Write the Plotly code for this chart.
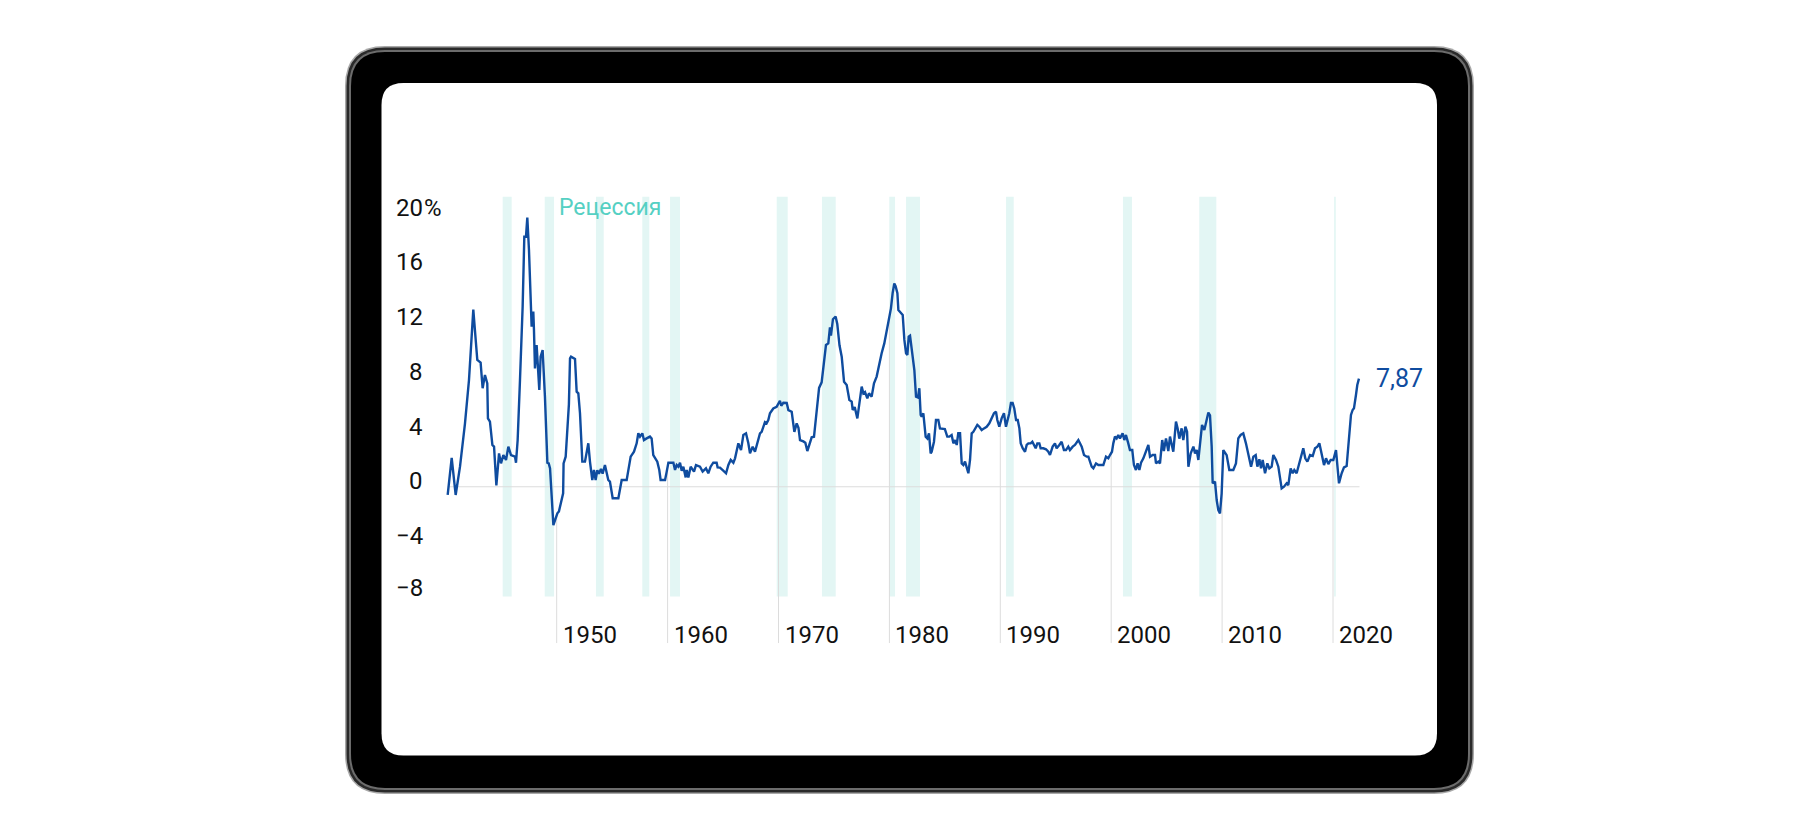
import numpy as np
import plotly.graph_objects as go

# ---------------- data ----------------
years = [
    1940.17, 1940.53, 1940.89, 1941.28, 1941.73, 1942.09, 1942.48, 1942.84, 1943.14, 1943.32,
    1943.53, 1943.74, 1943.80, 1943.98, 1944.20, 1944.35, 1944.56, 1944.80, 1944.98, 1945.19,
    1945.43, 1945.64, 1945.88, 1946.24, 1946.33, 1946.48, 1946.69, 1946.93, 1947.08, 1947.23,
    1947.35, 1947.50, 1947.74, 1947.89, 1947.95, 1948.04, 1948.19, 1948.34, 1948.43, 1948.55,
    1948.73, 1948.94, 1949.16, 1949.28, 1949.40, 1949.70, 1949.85, 1950.06, 1950.20, 1950.39,
    1950.58, 1950.62, 1950.81, 1951.10, 1951.20, 1951.29, 1951.65, 1951.80, 1951.95, 1952.10,
    1952.31, 1952.55, 1952.85, 1953.00, 1953.21, 1953.36, 1953.51, 1953.66, 1953.81, 1953.99,
    1954.14, 1954.35, 1954.50, 1954.65, 1954.80, 1955.05, 1955.56, 1955.86, 1956.31, 1956.67,
    1956.97, 1957.21, 1957.36, 1957.51, 1957.72, 1957.87, 1958.11, 1958.41, 1958.56, 1958.71,
    1959.07, 1959.25, 1959.37, 1959.77, 1959.92, 1960.07, 1960.52, 1960.67, 1960.82, 1960.97,
    1961.12, 1961.27, 1961.42, 1961.63, 1961.72, 1961.87, 1962.08, 1962.38, 1962.56, 1962.92,
    1963.16, 1963.46, 1963.67, 1963.88, 1964.12, 1964.42, 1964.51, 1964.72, 1965.02, 1965.27,
    1965.48, 1965.69, 1965.93, 1966.08, 1966.38, 1966.62, 1966.83, 1967.07, 1967.28, 1967.43,
    1967.67, 1967.88, 1968.33, 1968.48, 1968.78, 1968.93, 1969.08, 1969.23, 1969.53, 1969.83,
    1970.13, 1970.25, 1970.44, 1970.74, 1970.89, 1971.19, 1971.43, 1971.64, 1971.80, 1971.94,
    1972.24, 1972.42, 1972.60, 1972.78, 1972.99, 1973.20, 1973.44, 1973.66, 1973.89, 1974.04,
    1974.28, 1974.49, 1974.64, 1974.73, 1974.91, 1975.15, 1975.30, 1975.50, 1975.70, 1975.91,
    1976.15, 1976.39, 1976.60, 1976.69, 1976.87, 1977.11, 1977.35, 1977.50, 1977.65, 1977.80,
    1978.01, 1978.16, 1978.40, 1978.61, 1978.85, 1979.09, 1979.30, 1979.54, 1979.81, 1979.99,
    1980.14, 1980.29, 1980.44, 1980.56, 1980.72, 1980.81, 1980.96, 1981.20, 1981.35, 1981.50,
    1981.62, 1981.74, 1981.86, 1982.01, 1982.25, 1982.40, 1982.58, 1982.70, 1982.82, 1982.91,
    1983.06, 1983.27, 1983.42, 1983.57, 1983.72, 1983.81, 1984.02, 1984.20, 1984.41, 1984.56,
    1984.86, 1985.00, 1985.22, 1985.40, 1985.61, 1985.77, 1985.92, 1986.07, 1986.21, 1986.37,
    1986.52, 1986.67, 1986.82, 1986.97, 1987.12, 1987.27, 1987.42, 1987.57, 1987.78, 1987.93,
    1988.11, 1988.32, 1988.53, 1988.77, 1989.01, 1989.22, 1989.43, 1989.61, 1989.73, 1989.91,
    1990.12, 1990.33, 1990.51, 1990.66, 1990.81, 1990.96, 1991.11, 1991.26, 1991.42, 1991.57,
    1991.72, 1991.84, 1992.02, 1992.23, 1992.38, 1992.53, 1992.74, 1992.89, 1993.04, 1993.19,
    1993.34, 1993.52, 1993.64, 1993.88, 1994.12, 1994.33, 1994.48, 1994.72, 1994.93, 1995.08,
    1995.32, 1995.53, 1995.74, 1995.92, 1996.13, 1996.28, 1996.53, 1996.73, 1997.04, 1997.19,
    1997.34, 1997.55, 1997.79, 1997.94, 1998.09, 1998.24, 1998.39, 1998.63, 1998.84, 1999.14,
    1999.29, 1999.53, 1999.74, 1999.89, 2000.07, 2000.19, 2000.34, 2000.49, 2000.64, 2000.79,
    2001.03, 2001.18, 2001.33, 2001.54, 2001.69, 2001.90, 2002.05, 2002.23, 2002.38, 2002.54,
    2002.69, 2002.90, 2003.14, 2003.35, 2003.50, 2003.74, 2003.95, 2004.04, 2004.25, 2004.40,
    2004.60, 2004.75, 2004.94, 2005.15, 2005.30, 2005.54, 2005.60, 2005.84, 2005.99, 2006.14,
    2006.35, 2006.50, 2006.69, 2006.84, 2006.96, 2007.17, 2007.41, 2007.56, 2007.71, 2007.86,
    2008.01, 2008.19, 2008.40, 2008.61, 2008.76, 2008.91, 2009.06, 2009.15, 2009.36, 2009.51,
    2009.66, 2009.81, 2009.96, 2010.11, 2010.26, 2010.41, 2010.65, 2011.01, 2011.25, 2011.46,
    2011.67, 2011.91, 2012.15, 2012.37, 2012.61, 2012.82, 2013.03, 2013.18, 2013.36, 2013.51,
    2013.66, 2013.87, 2014.08, 2014.26, 2014.47, 2014.62, 2014.86, 2015.07, 2015.22, 2015.37,
    2015.58, 2015.82, 2015.97, 2016.18, 2016.36, 2016.51, 2016.72, 2016.93, 2017.08, 2017.32,
    2017.50, 2017.69, 2017.93, 2018.17, 2018.38, 2018.59, 2018.77, 2018.98, 2019.19, 2019.37,
    2019.58, 2019.79, 2020.03, 2020.27, 2020.39, 2020.54, 2020.78, 2020.99, 2021.23, 2021.47,
    2021.62, 2021.77, 2021.89, 2022.07, 2022.19, 2022.34,
]
inflation = [
    -0.60, 2.10, -0.60, 1.46, 4.62, 7.77, 12.90, 9.23, 9.04, 7.17,
    8.14, 7.53, 4.98, 4.74, 3.04, 2.92, 0.10, 2.43, 1.70, 2.31,
    1.95, 2.92, 2.31, 2.19, 1.75, 3.40, 7.77, 13.12, 18.21, 18.21,
    19.60, 17.24, 11.66, 12.75, 11.41, 8.62, 10.32, 8.26, 7.05, 9.47,
    9.96, 6.56, 1.75, 1.70, 1.34, -2.80, -2.43, -1.94, -1.80, -1.21,
    -0.48, 1.70, 2.19, 6.00, 9.35, 9.47, 9.30, 6.92, 6.80, 5.35,
    1.83, 1.83, 3.16, 1.83, 0.49, 1.22, 0.49, 1.20, 0.95, 1.30,
    0.95, 1.58, 0.98, 0.49, 0.37, -0.84, -0.84, 0.49, 0.49, 2.19,
    2.55, 3.16, 3.89, 3.65, 3.89, 3.40, 3.52, 3.65, 3.52, 2.31,
    1.83, 1.22, 0.49, 0.49, 1.10, 1.75, 1.75, 1.22, 1.58, 1.46,
    1.75, 1.17, 1.46, 0.68, 1.22, 0.68, 1.46, 1.10, 1.58, 1.46,
    1.10, 1.34, 0.98, 1.46, 1.75, 1.75, 1.41, 1.39, 1.17, 0.98,
    1.58, 1.95, 1.75, 2.07, 3.16, 2.67, 3.77, 3.89, 3.16, 2.43,
    2.92, 2.55, 3.89, 4.00, 4.70, 4.62, 4.86, 5.35, 5.70, 5.82,
    6.26, 5.90, 6.12, 6.10, 5.58, 5.46, 4.00, 4.61, 4.30, 3.40,
    3.30, 3.20, 2.60, 3.00, 3.60, 3.64, 5.35, 7.20, 7.60, 8.60,
    10.32, 10.44, 11.60, 11.00, 12.20, 12.40, 11.85, 10.30, 9.47, 7.65,
    7.41, 6.32, 6.20, 5.59, 5.80, 4.98, 6.19, 7.29, 6.80, 6.90,
    6.44, 6.80, 6.56, 7.53, 8.02, 8.99, 9.72, 10.44, 11.66, 12.27,
    12.99, 14.09, 14.80, 14.60, 14.09, 12.87, 12.75, 12.51, 10.69, 9.72,
    9.60, 10.93, 11.00, 9.96, 8.50, 6.56, 6.50, 7.17, 5.23, 5.10,
    5.35, 3.65, 3.52, 3.89, 2.43, 2.55, 3.28, 4.86, 4.86, 4.25,
    4.25, 4.20, 3.65, 3.65, 3.77, 3.16, 3.40, 3.04, 3.89, 3.89,
    1.70, 1.58, 1.83, 1.34, 0.98, 1.95, 3.89, 4.00, 4.25, 4.50,
    4.37, 4.13, 4.25, 4.37, 4.62, 4.98, 5.35, 5.47, 4.86, 4.37,
    4.98, 5.35, 4.37, 4.86, 5.35, 6.10, 6.10, 5.70, 4.86, 4.86,
    4.25, 3.16, 2.80, 2.55, 3.04, 3.16, 3.16, 3.28, 3.04, 2.80,
    3.16, 3.16, 2.80, 2.80, 2.73, 2.55, 2.31, 2.92, 3.16, 2.80,
    3.04, 3.28, 2.67, 2.67, 2.92, 2.67, 2.92, 3.04, 3.40, 3.16,
    2.92, 2.31, 2.19, 2.19, 1.83, 1.46, 1.34, 1.70, 1.58, 1.58,
    1.58, 2.19, 2.07, 2.31, 2.55, 3.16, 3.65, 3.52, 3.77, 3.52,
    3.89, 3.40, 3.77, 3.16, 2.67, 2.67, 1.58, 1.22, 1.70, 1.22,
    1.75, 2.07, 2.55, 3.04, 2.19, 2.31, 2.31, 1.70, 1.83, 1.70,
    3.40, 2.60, 3.52, 2.60, 3.65, 2.90, 2.55, 4.74, 4.25, 3.50,
    4.25, 3.40, 4.37, 4.00, 1.46, 2.43, 2.92, 2.43, 2.67, 1.95,
    3.16, 4.50, 4.13, 4.86, 5.40, 5.20, 2.92, 0.25, 0.37, -0.97,
    -1.70, -1.94, -0.48, 2.67, 2.43, 2.30, 1.22, 1.22, 1.70, 3.52,
    3.77, 3.89, 3.16, 2.43, 1.46, 2.19, 2.31, 1.46, 2.00, 1.34,
    1.95, 0.98, 1.70, 1.34, 1.46, 2.31, 1.95, 1.46, 0.61, -0.12,
    0.00, 0.25, 0.12, 1.34, 0.98, 1.22, 0.98, 1.58, 1.95, 2.80,
    2.07, 1.83, 2.31, 2.24, 2.80, 2.92, 3.16, 2.31, 1.58, 2.07,
    1.65, 1.95, 1.95, 2.67, 1.58, 0.25, 0.98, 1.41, 1.51, 3.89,
    5.23, 5.59, 5.71, 6.68, 7.41, 7.87,
]

recession_start = [1945.13, 1948.92, 1953.54, 1957.72, 1960.22, 1969.84, 1973.92, 1979.99, 1981.50, 1990.52, 2001.06, 2007.94, 2020.10]
recession_end   = [1945.94, 1949.76, 1954.24, 1958.35, 1961.12, 1970.83, 1975.16, 1980.51, 1982.76, 1991.21, 2001.87, 2009.48, 2020.25]

decades = [1950, 1960, 1970, 1980, 1990, 2000, 2010, 2020]
decade_labels = ["1950", "1960", "1970", "1980", "1990", "2000", "2010", "2020"]
y_ticks = [20, 16, 12, 8, 4, 0, -4, -8]
y_tick_labels = ["20", "16", "12", "8", "4", "0", "\u22124", "\u22128"]
last_label = "7,87"
recession_label = "Рецессия"

# ---------------- layout geometry (screen pixels; page body adds 8px) ----------------
OFF = 8
W, H = 1804, 824
PL, PR, PT, PB = 440, 1380, 190, 650           # plot area in screen pixels
X0, X1 = 1939.477, 2024.238                    # x range
Y0, Y1 = -11.89, 21.61                          # y range
PW, PH = PR - PL, PB - PT

def px2x(px):
    return (px - PL) / PW

def py2y(py):
    return (PB - py) / PH

LINE = "#0f4c9f"
BAND = "#e3f6f4"
GRID = "#dcdcdc"
TEAL = "#55d0c3"
FONT = "Roboto"
INK = "#111111"

def rrect(x0, y0, x1, y1, r):
    """rounded rectangle path in paper coords from pixel bounds"""
    P = lambda px, py: f"{px2x(px):.6f},{py2y(py):.6f}"
    return (f"M {P(x0 + r, y0)} L {P(x1 - r, y0)} Q {P(x1, y0)} {P(x1, y0 + r)} "
            f"L {P(x1, y1 - r)} Q {P(x1, y1)} {P(x1 - r, y1)} "
            f"L {P(x0 + r, y1)} Q {P(x0, y1)} {P(x0, y1 - r)} "
            f"L {P(x0, y0 + r)} Q {P(x0, y0)} {P(x0 + r, y0)} Z")

shapes = []
# device frame
frame = [(0, 40, "#a8a8a8"), (1.5, 38.5, "#2a2a2a"), (4, 36, "#6c6c6c"), (6, 34, "#000000")]
ox0, oy0, ox1, oy1 = 345, 46, 1474, 794
for inset, r, col in frame:
    shapes.append(dict(type="path", xref="paper", yref="paper", layer="below",
                       path=rrect(ox0 + inset, oy0 + inset, ox1 - inset, oy1 - inset, r),
                       fillcolor=col, line=dict(width=0)))
shapes.append(dict(type="path", xref="paper", yref="paper", layer="below",
                   path=rrect(381.5, 83, 1437, 755.5, 22), fillcolor="#ffffff", line=dict(width=0)))

# recession bands
band_top = (486.7 - 196.7) / 13.73
band_bot = (486.7 - 596.5) / 13.73
for s, e in zip(recession_start, recession_end):
    shapes.append(dict(type="rect", xref="x", yref="y", layer="below",
                       x0=s, x1=e, y0=band_bot, y1=band_top,
                       fillcolor=BAND, line=dict(width=0)))

fig = go.Figure()

# drop lines at decade ticks (from the series value down to the label)
drop_bottom = (486.7 - 643) / 13.73
dx, dy = [], []
for d in decades:
    v = float(np.interp(d, years, inflation))
    dx += [d, d, None]
    dy += [v, drop_bottom, None]
fig.add_trace(go.Scatter(x=dx, y=dy, mode="lines", line=dict(color=GRID, width=1),
                         hoverinfo="skip", showlegend=False, cliponaxis=False))

# zero line
fig.add_trace(go.Scatter(x=[years[0], years[-1] + 0.05], y=[0, 0], mode="lines",
                         line=dict(color=GRID, width=1.2), hoverinfo="skip", showlegend=False))

# main series
fig.add_trace(go.Scatter(x=years, y=inflation, mode="lines",
                         line=dict(color=LINE, width=2.4), showlegend=False))

annotations = []
# y labels
label_py = [208.3, 261.7, 316.7, 371.7, 426.7, 480.7, 536.0, 588.3]
for py, t in zip(label_py, y_tick_labels):
    annotations.append(dict(xref="paper", yref="paper", x=px2x(425), y=py2y(py),
                            text=t, showarrow=False, xanchor="right", yanchor="middle",
                            font=dict(family=FONT, size=24, color=INK)))
annotations.append(dict(xref="paper", yref="paper", x=px2x(425), y=py2y(208.3), xshift=-3,
                        text="%", showarrow=False, xanchor="left", yanchor="middle",
                        font=dict(family=FONT, size=24, color=INK)))
# x labels
for d, t in zip(decades, decade_labels):
    annotations.append(dict(xref="x", yref="paper", x=d, y=py2y(635), xshift=4,
                            text=t, showarrow=False, xanchor="left", yanchor="middle",
                            font=dict(family=FONT, size=24, color=INK)))
# recession label
annotations.append(dict(xref="paper", yref="paper", x=px2x(557), y=py2y(207),
                        text=recession_label, showarrow=False, xanchor="left", yanchor="middle",
                        font=dict(family=FONT, size=23, color=TEAL)))
# last value label
annotations.append(dict(xref="x", yref="y", x=years[-1], y=inflation[-1], xshift=15,
                        text=last_label, showarrow=False, xanchor="left", yanchor="middle",
                        font=dict(family=FONT, size=25, color=LINE)))

fig.update_layout(
    width=W, height=H,
    margin=dict(l=PL - OFF, r=W - (PR - OFF), t=PT - OFF, b=H - (PB - OFF), pad=0),
    paper_bgcolor="#ffffff", plot_bgcolor="rgba(0,0,0,0)",
    xaxis=dict(range=[X0, X1], visible=False, fixedrange=True),
    yaxis=dict(range=[Y0, Y1], visible=False, fixedrange=True),
    shapes=shapes, annotations=annotations,
    showlegend=False, hovermode=False,
)

fig.write_html("out.html")
